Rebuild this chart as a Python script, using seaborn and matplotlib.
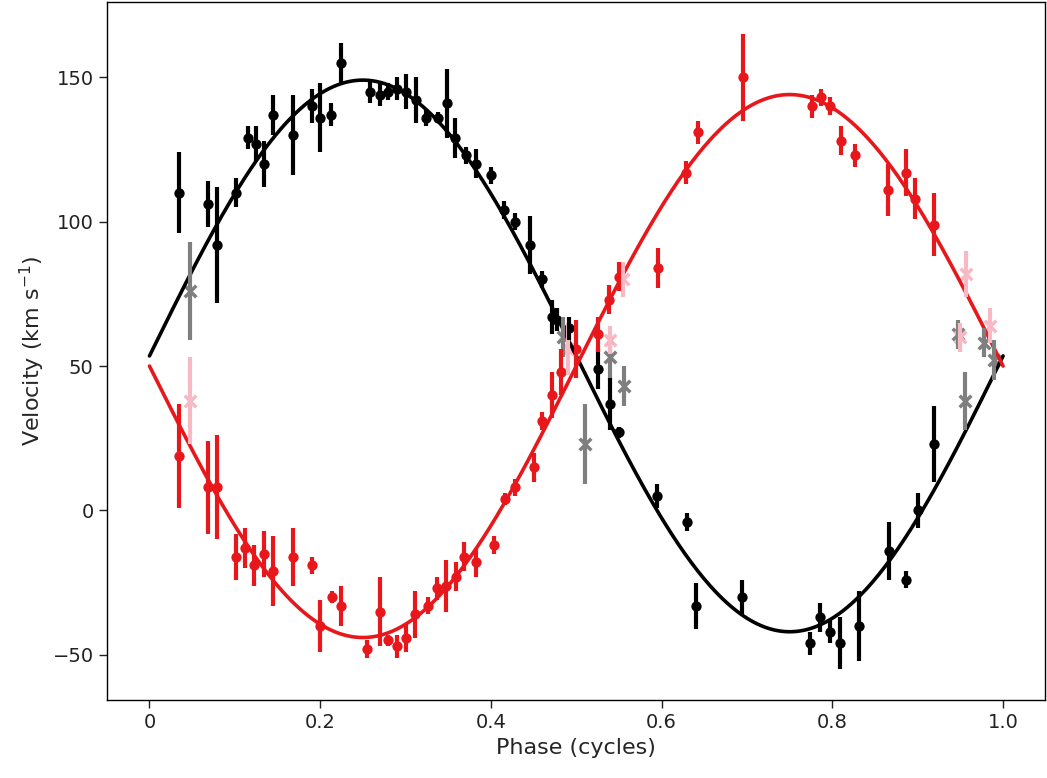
"""Radial velocity curve of a binary: two components folded on phase."""
import matplotlib
matplotlib.use("Agg")
import matplotlib.pyplot as plt
import numpy as np
import pandas as pd
import seaborn as sns

# primary (black) component
black_phase = [0.035, 0.068, 0.079, 0.101, 0.115, 0.125, 0.134, 0.145, 0.168, 0.19,
               0.2, 0.213, 0.224, 0.258, 0.27, 0.28, 0.29, 0.3, 0.312, 0.324,
               0.338, 0.348, 0.358, 0.371, 0.383, 0.4, 0.415, 0.428, 0.446, 0.46,
               0.472, 0.477, 0.491, 0.525, 0.539, 0.55, 0.595, 0.63, 0.64, 0.694,
               0.774, 0.786, 0.797, 0.809, 0.831, 0.866, 0.886, 0.9, 0.919]
black_vel = [110, 106, 92, 110, 129, 127, 120, 137, 130, 140,
             136, 137, 155, 145, 144, 145, 146, 145, 142, 136,
             136, 141, 129, 123, 120, 116, 104, 100, 92, 80,
             67, 66, 63, 49, 37, 27, 5, -4, -33, -30,
             -46, -37, -42, -46, -40, -14, -24, 0, 23]
black_err = [14, 8, 20, 5, 4, 6, 8, 7, 14, 6,
             12, 4, 7, 4, 4, 3, 4, 6, 8, 3,
             2, 12, 7, 3, 5, 3, 3, 3, 10, 3,
             6, 4, 4, 7, 9, 2, 4, 3, 8, 6,
             4, 5, 4, 9, 12, 10, 3, 6, 13]

# secondary (red) component
red_phase = [0.035, 0.068, 0.079, 0.101, 0.112, 0.122, 0.134, 0.145, 0.168, 0.19,
             0.2, 0.214, 0.224, 0.255, 0.27, 0.28, 0.29, 0.3, 0.311, 0.326,
             0.337, 0.347, 0.359, 0.369, 0.383, 0.404, 0.416, 0.428, 0.45, 0.46,
             0.471, 0.482, 0.5, 0.525, 0.538, 0.55, 0.596, 0.629, 0.643, 0.695,
             0.776, 0.787, 0.797, 0.81, 0.826, 0.865, 0.886, 0.897, 0.919]
red_vel = [19, 8, 8, -16, -13, -19, -15, -21, -16, -19,
           -40, -30, -33, -48, -35, -45, -47, -44, -36, -33,
           -27, -26, -23, -16, -18, -12, 4, 8, 15, 31,
           40, 48, 56, 61, 73, 81, 84, 117, 131, 150,
           140, 143, 140, 128, 123, 111, 117, 108, 99]
red_err = [18, 16, 18, 8, 7, 7, 8, 12, 10, 3,
           9, 2, 7, 3, 12, 2, 4, 5, 8, 3,
           4, 9, 5, 5, 5, 3, 2, 3, 5, 3,
           8, 8, 10, 6, 5, 5, 7, 4, 4, 15,
           4, 3, 3, 5, 4, 9, 8, 7, 11]

# low-quality measurements (crosses)
grey_phase = [0.047, 0.485, 0.51, 0.539, 0.556, 0.947, 0.955, 0.978, 0.989]
grey_vel = [76, 60, 23, 53, 43, 61, 38, 58, 52]
grey_err = [17, 7, 14, 8, 7, 5, 10, 5, 7]
pink_phase = [0.047, 0.49, 0.54, 0.555, 0.95, 0.957, 0.985]
pink_vel = [38, 56, 59, 80, 60, 82, 64]
pink_err = [15, 9, 5, 6, 5, 8, 6]

# orbit model: systemic velocity and semi-amplitude of each component
black_gamma, black_k = 53.5, 95.5
red_gamma, red_k = 50.0, 94.0

phase_grid = np.linspace(0, 1, 400)
model = pd.DataFrame({
    "phase": phase_grid,
    "black": black_gamma + black_k * np.sin(2 * np.pi * phase_grid),
    "red": red_gamma - red_k * np.sin(2 * np.pi * phase_grid),
})

sns.set_theme(style="ticks", font="DejaVu Sans")
fig = plt.figure(figsize=(10.47, 7.78), dpi=100)
ax = fig.add_axes([0.102, 0.1, 0.896, 0.898])

sns.lineplot(data=model, x="phase", y="black", color="black", lw=2.6, ax=ax)
sns.lineplot(data=model, x="phase", y="red", color="#e8171b", lw=2.6, ax=ax)

for ph, v, e, c, m in [(grey_phase, grey_vel, grey_err, "#7f7f7f", "x"),
                       (pink_phase, pink_vel, pink_err, "#f7b9c4", "x"),
                       (black_phase, black_vel, black_err, "black", "o"),
                       (red_phase, red_vel, red_err, "#e8171b", "o")]:
    ax.errorbar(ph, v, yerr=e, fmt="none", ecolor=c, elinewidth=3, capsize=0)
    sns.scatterplot(x=ph, y=v, color=c, marker=m, s=55 if m == "o" else 70,
                    linewidth=2.5 if m == "x" else 0, ax=ax)

ax.set_xlim(-0.05, 1.049)
ax.set_ylim(-65.7, 176.2)
ax.set_xticks([0, 0.2, 0.4, 0.6, 0.8, 1.0])
ax.set_xticklabels(["0", "0.2", "0.4", "0.6", "0.8", "1.0"])
ax.set_yticks([-50, 0, 50, 100, 150])
ax.tick_params(labelsize=14, length=6, width=1, direction="out", colors="#222222")
ax.set_xlabel("Phase (cycles)", fontsize=16)
ax.set_ylabel("Velocity (km s$^{-1}$)", fontsize=16)
for s in ax.spines.values():
    s.set_linewidth(1)
    s.set_color("black")

plt.savefig("out.png", dpi=100)
plt.close()
